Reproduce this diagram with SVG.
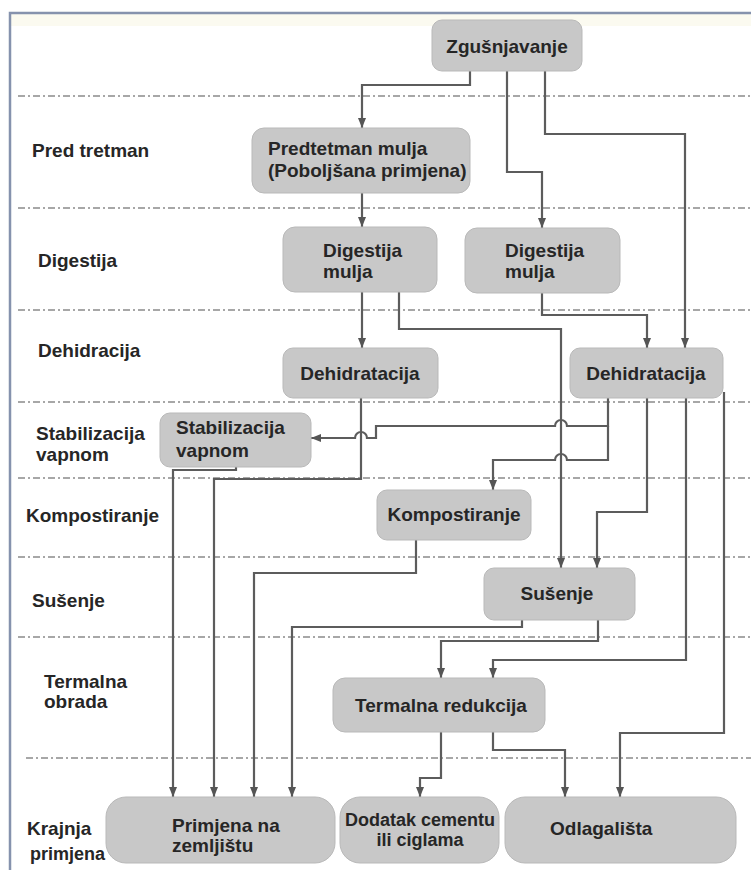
<svg xmlns="http://www.w3.org/2000/svg" width="751" height="870" viewBox="0 0 751 870">
<style>
.bg{fill:#ffffff}
.frame{stroke:#8592ad;stroke-width:2.5;fill:none}
.lane{stroke:#8a8a8a;stroke-width:1.6;stroke-dasharray:7 3 2 3;fill:none}
.box rect{fill:#c8c8c8;stroke:#b9b9b9;stroke-width:1}
.box text,.lbl{font-family:"Liberation Sans",Arial,sans-serif;font-weight:bold;font-size:19px;fill:#262626}
.c{stroke:#5c5c5c;stroke-width:2.2;fill:none}
.a{marker-end:url(#ah)}
.mid{text-anchor:middle}
</style>
<defs>
<marker id="ah" viewBox="0 0 10 10" refX="10" refY="5" markerWidth="10" markerHeight="10" markerUnits="userSpaceOnUse" orient="auto">
<path d="M0,1 L10,5 L0,9 z" fill="#555555"/>
</marker>
</defs>
<rect class="bg" x="0" y="0" width="751" height="870"/>
<rect x="11" y="14" width="740" height="12" fill="#fbfaf0"/>
<path class="frame" d="M10,870 V13 H751"/>
<g id="lanes">
<line class="lane" x1="18" y1="96" x2="751" y2="96"/>
<line class="lane" x1="18" y1="208" x2="751" y2="208"/>
<line class="lane" x1="18" y1="310" x2="751" y2="310"/>
<line class="lane" x1="18" y1="402" x2="751" y2="402"/>
<line class="lane" x1="18" y1="478" x2="751" y2="478"/>
<line class="lane" x1="18" y1="557" x2="751" y2="557"/>
<line class="lane" x1="18" y1="637" x2="751" y2="637"/>
<line class="lane" x1="26" y1="758" x2="751" y2="758"/>
</g>
<g id="connectors">
<path class="c a" d="M470,71 V85 H362 V128"/>
<path class="c a" d="M507,71 V172 H542 V228"/>
<path class="c a" d="M545,71 V134 H685 V348"/>
<path class="c a" d="M362,193 V227"/>
<path class="c a" d="M362,292 V348"/>
<path class="c a" d="M399,292 V329 H561 V568"/>
<path class="c a" d="M542,293 V315 H647 V348"/>
<path class="c a" d="M361,398 V479 H214 V797"/>
<path class="c a" d="M608,398 V426 H567 A6,6 0 0 0 555,426 H376 V438 H367 A6,6 0 0 0 355,438 H311"/>
<path class="c a" d="M608,426 V460 H567 A6,6 0 0 0 555,460 H493 V490"/>
<path class="c a" d="M647,398 V512 H597 V568"/>
<path class="c a" d="M686,398 V660 H493 V678"/>
<path class="c a" d="M724,392 V733 H620 V797"/>
<path class="c a" d="M236,467 V470 H173 V797"/>
<path class="c a" d="M416,540 V573 H254 V797"/>
<path class="c a" d="M522,620 V627 H292 V797"/>
<path class="c a" d="M598,620 V641 H441 V678"/>
<path class="c a" d="M441,732 V778 H420 V797"/>
<path class="c a" d="M493,732 V750 H565 V797"/>
</g>
<g id="n-zgusnjavanje" class="box"><rect x="432" y="20" width="150" height="51" rx="10"/><text class="mid" x="507" y="53">Zgušnjavanje</text></g>
<g id="n-predtretman" class="box"><rect x="252" y="128" width="218" height="65" rx="12"/><text x="268" y="155">Predtetman mulja</text><text x="268" y="177">(Poboljšana primjena)</text></g>
<g id="n-digestija1" class="box"><rect x="283" y="227" width="154" height="65" rx="12"/><text x="323" y="257">Digestija</text><text x="323" y="278">mulja</text></g>
<g id="n-digestija2" class="box"><rect x="465" y="228" width="155" height="65" rx="12"/><text x="505" y="257">Digestija</text><text x="505" y="278">mulja</text></g>
<g id="n-dehidratacija1" class="box"><rect x="283" y="348" width="155" height="50" rx="10"/><text class="mid" x="360" y="380">Dehidratacija</text></g>
<g id="n-dehidratacija2" class="box"><rect x="570" y="348" width="153" height="50" rx="10"/><text class="mid" x="646" y="380">Dehidratacija</text></g>
<g id="n-stabilizacija" class="box"><rect x="160" y="413" width="151" height="54" rx="10"/><text x="176" y="434">Stabilizacija</text><text x="176" y="457">vapnom</text></g>
<g id="n-kompostiranje" class="box"><rect x="377" y="490" width="154" height="50" rx="10"/><text class="mid" x="454" y="521">Kompostiranje</text></g>
<g id="n-susenje" class="box"><rect x="484" y="568" width="151" height="52" rx="10"/><text class="mid" x="557" y="600">Sušenje</text></g>
<g id="n-termalna" class="box"><rect x="333" y="678" width="212" height="54" rx="12"/><text class="mid" x="441" y="712">Termalna redukcija</text></g>
<g id="n-primjena" class="box"><rect x="106" y="797" width="229" height="66" rx="20"/><text x="172" y="832">Primjena na</text><text x="172" y="852">zemljištu</text></g>
<g id="n-dodatak" class="box"><rect x="340" y="797" width="159" height="66" rx="20"/><text class="mid" x="420" y="826" style="font-size:18px">Dodatak cementu</text><text class="mid" x="420" y="846" style="font-size:18px">ili ciglama</text></g>
<g id="n-odlagalista" class="box"><rect x="505" y="797" width="231" height="66" rx="20"/><text x="550" y="835">Odlagališta</text></g>
<g id="lane-labels">
<text class="lbl" x="32" y="157">Pred tretman</text>
<text class="lbl" x="38" y="267">Digestija</text>
<text class="lbl" x="38" y="357">Dehidracija</text>
<text class="lbl" x="36" y="440">Stabilizacija</text>
<text class="lbl" x="36" y="461">vapnom</text>
<text class="lbl" x="26" y="522">Kompostiranje</text>
<text class="lbl" x="32" y="607">Sušenje</text>
<text class="lbl" x="44" y="688">Termalna</text>
<text class="lbl" x="44" y="708">obrada</text>
<text class="lbl" x="27" y="835">Krajnja</text>
<text class="lbl" x="30" y="860" style="font-size:18px">primjena</text>
</g>
</svg>
